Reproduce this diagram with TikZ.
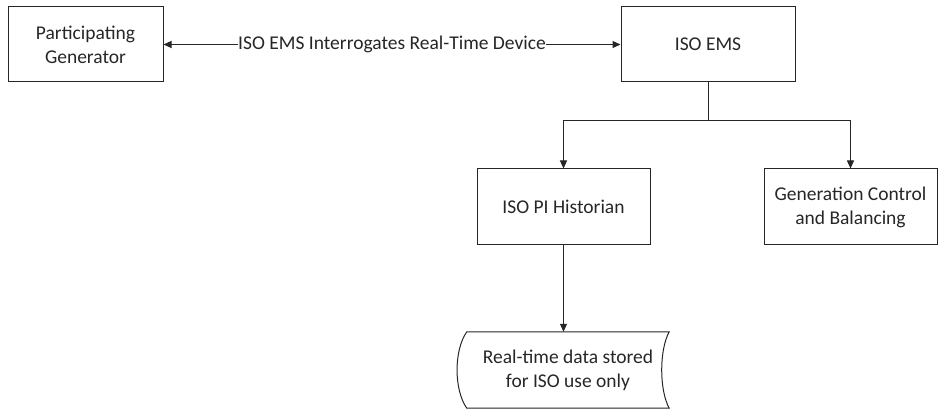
\documentclass[tikz,border=0pt]{standalone}
\usepackage{fontspec}
\setmainfont{Carlito}
\usetikzlibrary{arrows.meta,calc}
\begin{document}
\begin{tikzpicture}[x=1pt,y=1pt,
  box/.style={draw=black!85, line width=1pt, align=center, inner sep=0pt, font=\fontsize{19.5}{24}\selectfont, text=black!85},
  conn/.style={draw=black!85, line width=1pt},
  tip/.style={-{Triangle[width=7pt,length=8pt]}},
  lbl/.style={font=\fontsize{19.5}{24}\selectfont, text=black!85, fill=white, inner sep=0pt}
]
\useasboundingbox (0,0) rectangle (941,-411);
\node[box, minimum width=155, minimum height=75] (pg) at (85.5,-44.5) {Participating\\Generator};
\node[box, minimum width=174, minimum height=75] (ems) at (708,-44.5) {ISO EMS};
\node[box, minimum width=173, minimum height=76] (hist) at (563.5,-207) {ISO PI Historian};
\node[box, minimum width=173, minimum height=76] (gcb) at (850.5,-207) {Generation Control\\and Balancing};
\node[align=center, inner sep=0pt, minimum width=202, minimum height=76, font=\fontsize{19.5}{24}\selectfont, text=black!85] (store) at (568,-370) {Real-time data stored\\for ISO use only};
\draw[conn] (store.north west) -- (store.north east)
  .. controls ($(store.east)+(-10,20)$) and ($(store.east)+(-10,-20)$) .. (store.south east)
  -- (store.south west)
  .. controls ($(store.west)+(-13,-20)$) and ($(store.west)+(-13,20)$) .. (store.north west) -- cycle;
\draw[conn, {Triangle[width=7pt,length=8pt]}-{Triangle[width=7pt,length=8pt]}] (pg.east) -- node[lbl] (lab) {ISO EMS Interrogates Real-Time Device} (ems.west);
\coordinate (split) at ($(ems.south)+(0,-38)$);
\draw[conn] (ems.south) -- (split);
\draw[conn, tip] (split) -| (hist.north);
\draw[conn, tip] (split) -| (gcb.north);
\draw[conn, tip] (hist.south) -- (hist.south |- store.north);
\end{tikzpicture}
\end{document}
